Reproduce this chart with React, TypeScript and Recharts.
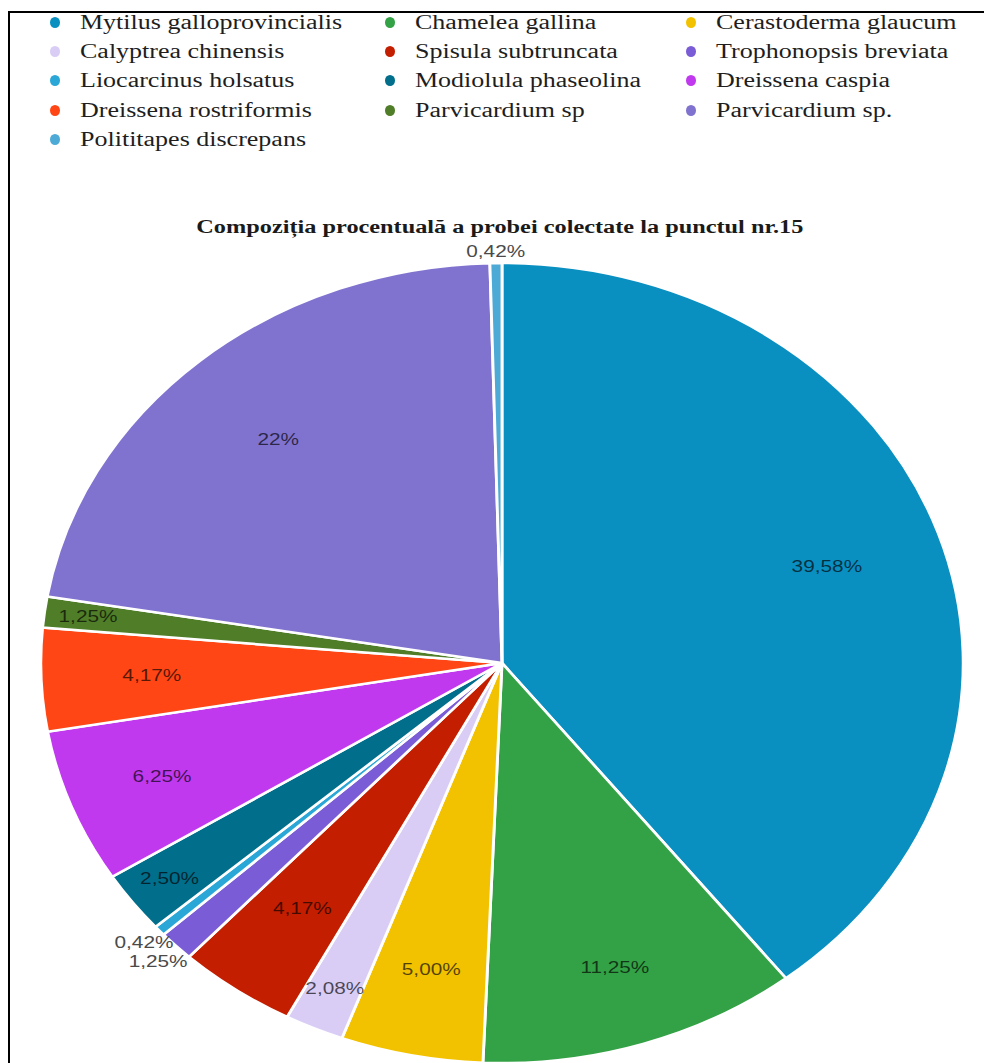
import React from 'react';
import { PieChart, Pie, Cell } from 'recharts';

// species in legend order (also the clockwise slice order, starting at 12 o'clock)
const SPECIES = [
  'Mytilus galloprovincialis',
  'Chamelea gallina',
  'Cerastoderma glaucum',
  'Calyptrea chinensis',
  'Spisula subtruncata',
  'Trophonopsis breviata',
  'Liocarcinus holsatus',
  'Modiolula phaseolina',
  'Dreissena caspia',
  'Dreissena rostriformis',
  'Parvicardium sp',
  'Parvicardium sp.',
  'Polititapes discrepans',
];

const SHARES = [39.58, 11.25, 5.0, 2.08, 4.17, 1.25, 0.42, 2.5, 6.25, 4.17, 1.25, 22, 0.42];

const SHARE_LABELS = [
  '39,58%', '11,25%', '5,00%', '2,08%', '4,17%', '1,25%', '0,42%',
  '2,50%', '6,25%', '4,17%', '1,25%', '22%', '0,42%',
];

const COLORS = [
  '#0a8fc1', '#33a145', '#f2c200', '#d9cdf6', '#c41e00', '#7a5cd6', '#2ba7d7',
  '#016e8b', '#c039ef', '#ff4614', '#4f7d28', '#8073cf', '#4daad6',
];

// label distance from centre as a fraction of the radius (> 1 sits outside)
const LABEL_RADIUS = [0.745, 0.8, 0.78, 0.89, 0.75, 1.055, 1.045, 0.9, 0.79, 0.76, 0.905, 0.74, 1.03];

const TITLE = 'Compoziția procentuală a probei colectate la punctul nr.15';

const data = SPECIES.map((name, i) => ({ name, value: SHARES[i], label: SHARE_LABELS[i] }));

const RAD = Math.PI / 180;
const PIE_SIZE = 900;
const PIE_R = 400;
const STRETCH = 1.153; // the original pie is wider than tall
const TEXT_STRETCH = 1.3;

const renderLabel = (props: any) => {
  const { cx, cy, midAngle, outerRadius, index } = props;
  const k = LABEL_RADIUS[index];
  const r = outerRadius * k;
  const x = cx + r * Math.cos(-midAngle * RAD);
  const y = cy + r * Math.sin(-midAngle * RAD);
  const outside = k > 1;
  return (
    <text
      x={0}
      y={0}
      transform={`translate(${x},${y}) scale(${TEXT_STRETCH / STRETCH},1)`}
      textAnchor="middle"
      dominantBaseline="central"
      fill={outside ? '#4a4a4a' : 'rgba(0,0,0,0.68)'}
      fontSize={16}
      fontFamily="'Liberation Sans', Arial, sans-serif"
    >
      {SHARE_LABELS[index]}
    </text>
  );
};

const LEGEND_COLS = [
  { dot: 55, text: 80 },
  { dot: 390, text: 415 },
  { dot: 691, text: 716 },
];
const LEGEND_ROW_Y = [22, 51, 80, 110, 139];

const Legend = () => (
  <>
    {SPECIES.map((name, i) => {
      const col = LEGEND_COLS[i % 3];
      const y = LEGEND_ROW_Y[Math.floor(i / 3)];
      return (
        <React.Fragment key={name}>
          <div
            style={{
              position: 'absolute',
              left: col.dot - 5,
              top: y - 5.5,
              width: 10,
              height: 11,
              borderRadius: '50%',
              background: COLORS[i],
            }}
          />
          <div
            style={{
              position: 'absolute',
              left: col.text,
              top: y - 12,
              height: 24,
              lineHeight: '24px',
              fontFamily: "'Liberation Serif', 'Times New Roman', serif",
              fontSize: 20,
              color: '#1e1e1e',
              whiteSpace: 'nowrap',
              transform: `scaleX(${TEXT_STRETCH})`,
              transformOrigin: 'left center',
            }}
          >
            {name}
          </div>
        </React.Fragment>
      );
    })}
  </>
);

export default function App() {
  return (
    <div
      style={{
        position: 'absolute',
        left: 0,
        top: 0,
        width: 986,
        height: 1063,
        overflow: 'hidden',
        background: '#fff',
      }}
    >
      {/* frame */}
      <div style={{ position: 'absolute', left: 8, top: 11, width: 976, height: 2, background: '#000' }} />
      <div style={{ position: 'absolute', left: 8, top: 11, width: 2, height: 1060, background: '#000' }} />

      <Legend />

      <div
        style={{
          position: 'absolute',
          left: 0,
          top: 215,
          width: 1000,
          textAlign: 'center',
          lineHeight: '24px',
        }}
      >
        <span
          style={{
            display: 'inline-block',
            fontFamily: "'Liberation Serif', 'Times New Roman', serif",
            fontWeight: 'bold',
            fontSize: 18,
            color: '#1a1a1a',
            transform: 'scaleX(1.35)',
          }}
        >
          {TITLE}
        </span>
      </div>

      <div
        style={{
          position: 'absolute',
          left: 502 - PIE_SIZE / 2,
          top: 663 - PIE_SIZE / 2,
          width: PIE_SIZE,
          height: PIE_SIZE,
          transform: `scaleX(${STRETCH})`,
          transformOrigin: '50% 50%',
        }}
      >
        <PieChart width={PIE_SIZE} height={PIE_SIZE} margin={{ top: 0, right: 0, bottom: 0, left: 0 }}>
          <Pie
            data={data}
            dataKey="value"
            nameKey="name"
            cx={PIE_SIZE / 2}
            cy={PIE_SIZE / 2}
            outerRadius={PIE_R}
            startAngle={90}
            endAngle={-270}
            stroke="#ffffff"
            strokeWidth={2.5}
            label={renderLabel}
            labelLine={false}
            isAnimationActive={false}
          >
            {data.map((d, i) => (
              <Cell key={d.name} fill={COLORS[i]} />
            ))}
          </Pie>
        </PieChart>
      </div>
    </div>
  );
}
